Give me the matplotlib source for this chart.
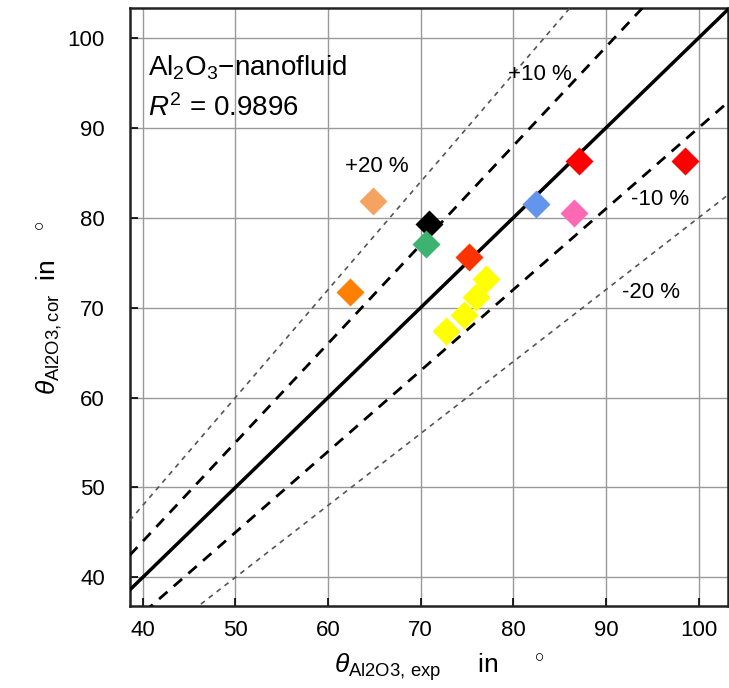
import numpy as np
import matplotlib.pyplot as plt

plt.rcParams['font.family'] = ['Liberation Sans', 'DejaVu Sans']
plt.rcParams['mathtext.fontset'] = 'custom'
plt.rcParams['mathtext.rm'] = 'Liberation Sans'
plt.rcParams['mathtext.it'] = 'Liberation Sans:italic'

# measured vs correlated values
theta_exp = [64.8, 70.9, 70.6, 62.4, 75.2, 77.0, 76.0, 74.7, 72.7, 82.5, 87.1, 86.5, 98.5]
theta_cor = [81.9, 79.3, 77.1, 71.7, 75.6, 73.2, 71.2, 69.2, 67.4, 81.5, 86.3, 80.5, 86.3]
point_colors = ["#f4a460", "#000000", "#3cb371", "#ff7f00", "#ff3300",
                "#ffff00", "#ffff00", "#ffff00", "#ffff00",
                "#6495ed", "#ff0000", "#ff69b4", "#ff0000"]

ticks = [40, 50, 60, 70, 80, 90, 100]

fig = plt.figure(figsize=(7.29, 6.88), dpi=100)
ax = fig.add_axes([0.178, 0.119, 0.821, 0.869])

xmin, xmax = 38.6, 103.2
ymin, ymax = 36.8, 103.3
xs = np.array([xmin, xmax])

ax.plot(xs, xs, color="black", lw=2.5, zorder=3)
ax.plot(xs, 1.1 * xs, color="black", lw=2, ls=(0, (4, 3)), zorder=3)
ax.plot(xs, 0.9 * xs, color="black", lw=2, ls=(0, (4, 3)), zorder=3)
ax.plot(xs, 1.2 * xs, color="#555555", lw=1.2, ls=(0, (3, 3)), zorder=3)
ax.plot(xs, 0.8 * xs, color="#555555", lw=1.2, ls=(0, (3, 3)), zorder=3)

for x, y, c in zip(theta_exp, theta_cor, point_colors):
    ax.plot(x, y, marker="D", ms=14, color=c, mec="none", ls="none", zorder=4)

ax.set_xlim(xmin, xmax)
ax.set_ylim(ymin, ymax)
ax.set_xticks(ticks)
ax.set_yticks(ticks)
ax.tick_params(labelsize=16, direction="in", length=6, width=1.2)
ax.tick_params(axis="x", pad=10)
ax.tick_params(axis="y", pad=18)
ax.grid(True, color="#999999", lw=1)
ax.set_axisbelow(True)
for s in ax.spines.values():
    s.set_linewidth(1.8)
    s.set_color("#222222")

ax.text(0.03, 0.90, r"Al$_2$O$_3$$-$nanofluid", transform=ax.transAxes,
        fontsize=20, va="center")
ax.text(0.03, 0.833, r"$R^2$ = 0.9896", transform=ax.transAxes,
        fontsize=20, va="center")

ax.text(82.9, 95.9, "+10 %", fontsize=16, ha="center", va="center")
ax.text(65.3, 85.7, "+20 %", fontsize=16, ha="center", va="center")
ax.text(95.8, 82.0, "-10 %", fontsize=16, ha="center", va="center")
ax.text(94.9, 71.7, "-20 %", fontsize=16, ha="center", va="center")

ax.set_xlabel(r"$\theta_{\mathrm{Al2O3,\,exp}}$     in     $^{\circ}$", fontsize=19)
ax.xaxis.set_label_coords(0.518, -0.075)
ax.set_ylabel(r"$\theta_{\mathrm{Al2O3,cor}}$  in    $^{\circ}$", fontsize=19)
ax.yaxis.set_label_coords(-0.11, 0.50)

fig.savefig("out.png", dpi=100)
